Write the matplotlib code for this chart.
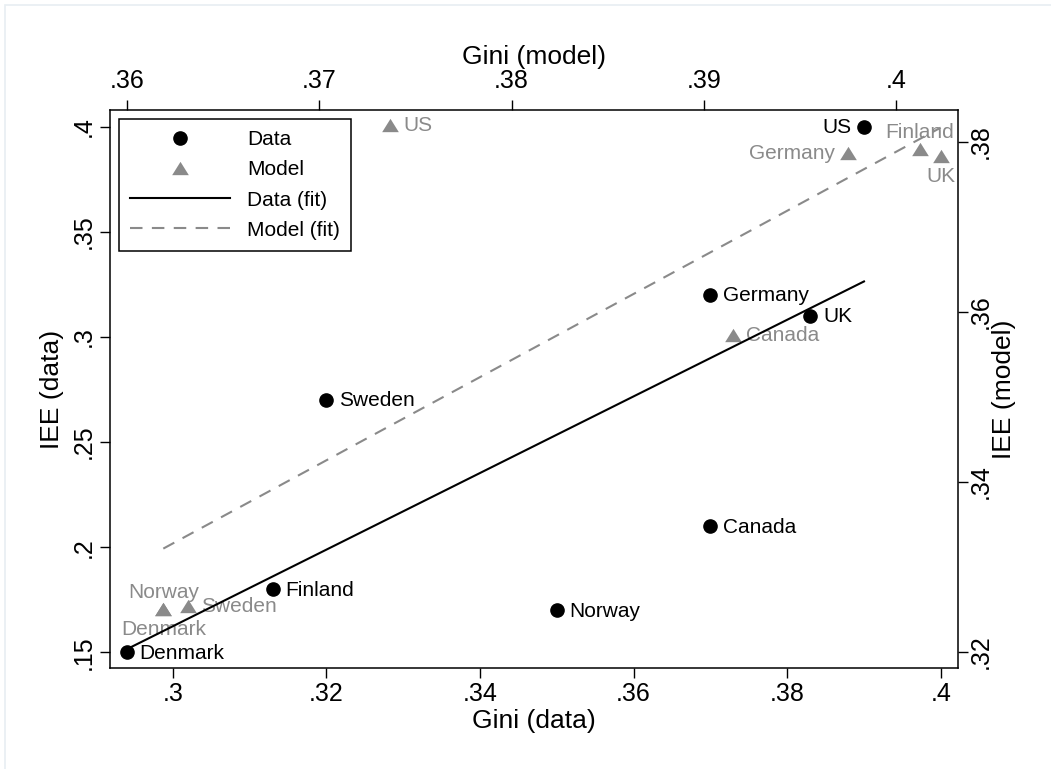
import numpy as np
import matplotlib.pyplot as plt
from matplotlib.lines import Line2D
from matplotlib.patches import Rectangle

plt.rcParams['font.family'] = ['Liberation Sans', 'DejaVu Sans']

# values
countries = ['Denmark', 'Finland', 'Sweden', 'Norway', 'Canada', 'Germany', 'UK', 'US']
gini_data = [0.294, 0.313, 0.320, 0.350, 0.370, 0.370, 0.383, 0.390]
iee_data = [0.15, 0.18, 0.27, 0.17, 0.21, 0.32, 0.31, 0.40]
gini_model = [0.3619, 0.4012, 0.3632, 0.3619, 0.3915, 0.3975, 0.4023, 0.3737]
iee_model = [0.3250, 0.3791, 0.3254, 0.3250, 0.3573, 0.3787, 0.3783, 0.3820]

gini_data_ticks = [0.30, 0.32, 0.34, 0.36, 0.38, 0.40]
iee_data_ticks = [0.15, 0.20, 0.25, 0.30, 0.35, 0.40]
gini_model_ticks = [0.36, 0.37, 0.38, 0.39, 0.40]
iee_model_ticks = [0.32, 0.34, 0.36, 0.38]

# where each marker label sits (Stata clock positions)
data_lab_pos = {'US': 'left'}
model_lab_pos = {'Denmark': 'below', 'Norway': 'above', 'Finland': 'above',
                 'UK': 'below', 'Germany': 'left'}

GRAY = '#8a8a8a'
TRI = [(-1, -0.8), (1, -0.8), (0, 0.8), (-1, -0.8)]   # flatter triangle like Stata's


def fmt(v):
    s = '%g' % v
    return s[1:] if s.startswith('0') else s


def put_label(ax, x, y, txt, pos, color):
    offs = {'right': ((9.3, -0.6), 'left', 'center'),
            'left': ((-9.3, -0.6), 'right', 'center'),
            'above': ((0, 12.2), 'center', 'center'),
            'below': ((0, -14.6), 'center', 'center')}
    (dx, dy), ha, va = offs[pos]
    ax.annotate(txt, (x, y), xytext=(dx, dy), textcoords='offset points',
                ha=ha, va=va, fontsize=15, color=color)


fig = plt.figure(figsize=(10.51, 7.69), dpi=100)
fig.add_artist(Rectangle((5 / 1051, -0.05), 1.2, 1.05 - 5 / 769, transform=fig.transFigure,
                         fill=False, edgecolor='#e8eef2', lw=1.2))

pos = [110 / 1051, 1 - 668 / 769, 848 / 1051, 558 / 769]
axm = fig.add_axes(pos, zorder=1)        # model: top / right axes
ax = fig.add_axes(pos, zorder=2)         # data: bottom / left axes
ax.patch.set_visible(False)
for s in axm.spines.values():
    s.set_visible(False)

# model series
axm.plot(gini_model, iee_model, ls='none', marker=TRI, ms=12, color=GRAY, mec='none')
for c, x, y in zip(countries, gini_model, iee_model):
    put_label(axm, x, y, c, model_lab_pos.get(c, 'right'), GRAY)
pm = np.polyfit(gini_model, iee_model, 1)
xm = np.array([min(gini_model), max(gini_model)])
axm.plot(xm, np.polyval(pm, xm), color=GRAY, lw=1.5, dashes=(6, 4.5))

# data series
ax.plot(gini_data, iee_data, ls='none', marker='o', ms=9.5, color='black')
for c, x, y in zip(countries, gini_data, iee_data):
    put_label(ax, x, y, c, data_lab_pos.get(c, 'right'), 'black')
pd_ = np.polyfit(gini_data, iee_data, 1)
xd = np.array([min(gini_data), max(gini_data)])
ax.plot(xd, np.polyval(pd_, xd), color='black', lw=1.5)

# axes
ax.set_xlim(0.29183, 0.40224)
ax.set_ylim(0.14259, 0.40794)
axm.set_xlim(0.35913, 0.40320)
axm.set_ylim(0.31812, 0.38372)

ax.set_xticks(gini_data_ticks, [fmt(v) for v in gini_data_ticks])
ax.set_yticks(iee_data_ticks, [fmt(v) for v in iee_data_ticks], rotation=90, va='center')
axm.xaxis.tick_top()
axm.yaxis.tick_right()
axm.set_xticks(gini_model_ticks, [fmt(v) for v in gini_model_ticks])
axm.set_yticks(iee_model_ticks, [fmt(v) for v in iee_model_ticks], rotation=90, va='center')

ax.tick_params(axis='x', length=7, width=1, labelsize=18, pad=3)
ax.tick_params(axis='y', length=7, width=1, labelsize=18, pad=3.5)
axm.tick_params(axis='x', length=7, width=1, labelsize=18, pad=5)
axm.tick_params(axis='y', length=7, width=1, labelsize=18, pad=1)
for s in ax.spines.values():
    s.set_linewidth(1.1)

ax.set_xlabel('Gini (data)', fontsize=19, labelpad=2)
ax.set_ylabel('IEE (data)', fontsize=19, labelpad=5)
axm.xaxis.set_label_position('top')
axm.yaxis.set_label_position('right')
axm.set_xlabel('Gini (model)', fontsize=19, labelpad=4)
axm.set_ylabel('IEE (model)', fontsize=19, labelpad=-1)

handles = [Line2D([], [], ls='none', marker='o', ms=9.5, color='black'),
           Line2D([], [], ls='none', marker=TRI, ms=12, color=GRAY, mec='none'),
           Line2D([], [], color='black', lw=1.5),
           Line2D([], [], color=GRAY, lw=1.5, dashes=(6, 4.5))]
leg = ax.legend(handles, ['Data', 'Model', 'Data (fit)', 'Model (fit)'],
                loc='upper left', bbox_to_anchor=(9 / 848, 1 - 9 / 558),
                borderaxespad=0, fontsize=15, frameon=True, fancybox=False,
                edgecolor='black', framealpha=1, handlelength=4.8,
                handletextpad=0.8, borderpad=0.55, labelspacing=0.53)
leg.get_frame().set_linewidth(1.1)

fig.savefig('out.png', dpi=100)
